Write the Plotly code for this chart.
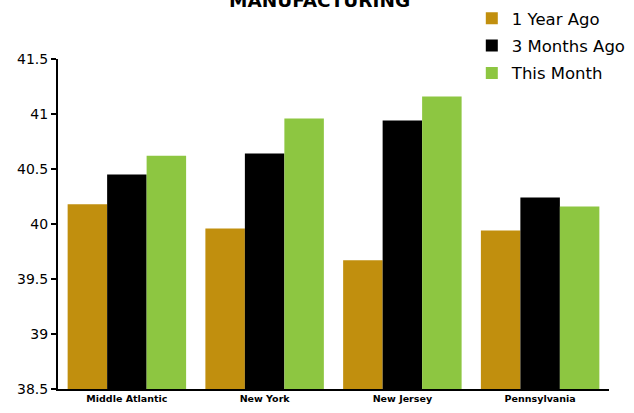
import plotly.graph_objects as go

categories = ["Middle Atlantic", "New York", "New Jersey", "Pennsylvania"]
year_ago = [40.18, 39.96, 39.67, 39.94]
three_months_ago = [40.45, 40.64, 40.94, 40.24]
this_month = [40.62, 40.96, 41.16, 40.16]
y_ticks = [38.5, 39, 39.5, 40, 40.5, 41, 41.5]
y_tick_labels = ["38.5", "39", "39.5", "40", "40.5", "41", "41.5"]

FONT = "DejaVu Sans"

fig = go.Figure()
series = [
    ("1 Year Ago", year_ago, "#C18F0E"),
    ("3 Months Ago", three_months_ago, "#000000"),
    ("This Month", this_month, "#8DC641"),
]
for name, vals, col in series:
    fig.add_trace(go.Bar(
        x=categories, y=vals, name=name, legendgroup=name,
        marker=dict(color=col, line=dict(width=0)),
    ))

fig.update_layout(
    width=634, height=413,
    margin=dict(l=58, r=25, t=59, b=24, autoexpand=False),
    paper_bgcolor="white", plot_bgcolor="white",
    barmode="group", bargap=0.14, bargroupgap=0,
    legend=dict(x=0.751, xanchor="left", y=1.176, yanchor="top",
                font=dict(family=FONT, size=16.5, color="black"),
                bgcolor="rgba(0,0,0,0)", tracegroupgap=3, itemwidth=30),
    font=dict(family=FONT, color="black"),
)
fig.add_annotation(text="<b>MANUFACTURING</b>", xref="paper", yref="paper",
                   x=0.475, xanchor="center", y=1.1394, yanchor="bottom",
                   showarrow=False,
                   font=dict(family=FONT, size=18.5, color="black"))
fig.update_yaxes(range=[38.5, 41.5], tickvals=y_ticks, ticktext=y_tick_labels,
                 showgrid=False, zeroline=False, showline=True, linecolor="black",
                 linewidth=2, ticks="outside", ticklen=5, tickwidth=2, tickcolor="black",
                 tickfont=dict(family=FONT, size=14, color="black"))
fig.update_xaxes(showgrid=False, showline=True, linecolor="black", linewidth=2,
                 ticks="", tickvals=categories,
                 ticktext=[f"<b>{c}</b>" for c in categories],
                 tickfont=dict(family=FONT, size=9.5, color="black"))

fig.write_html("out.html", config={"displayModeBar": False},
               post_script="document.body.style.margin='0';document.body.style.overflow='hidden';")
